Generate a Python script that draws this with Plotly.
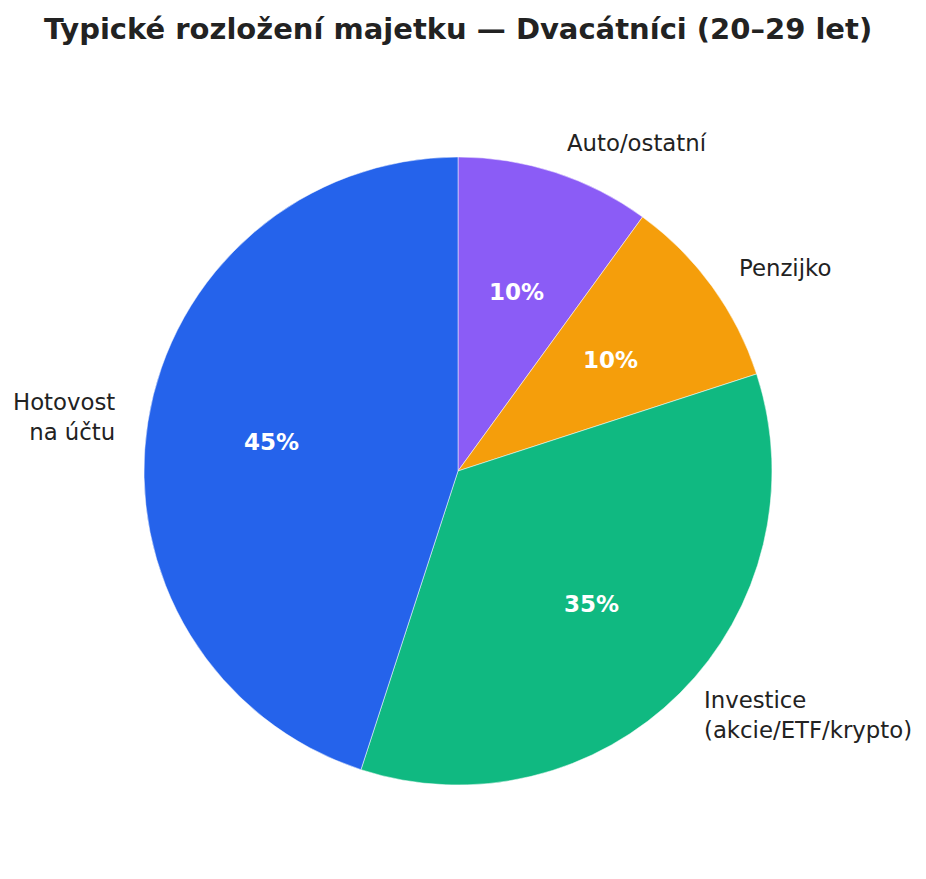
import numpy as np
import plotly.graph_objects as go

# Rozložení majetku dvacátníků
kategorie = ["Hotovost<br>na účtu", "Investice<br>(akcie/ETF/krypto)", "Penzijko", "Auto/ostatní"]
podily = [45, 35, 10, 10]
barvy = ["#2563eb", "#10b981", "#f59e0b", "#8b5cf6"]

# geometrie koláče v pixelech (stránka má 8px okraj body)
W, H = 926, 879
CX, CY, R = 450, 463, 314

# výseče jdou od 12 hodin proti směru hodinových ručiček -> v plotly obrátit pořadí a kreslit po směru
fig = go.Figure(go.Pie(
    labels=kategorie[::-1],
    values=podily[::-1],
    sort=False,
    direction="clockwise",
    rotation=0,
    domain=dict(x=[(CX - R) / W, (CX + R) / W], y=[(H - CY - R) / H, (H - CY + R) / H]),
    marker=dict(colors=barvy[::-1], line=dict(color="white", width=0.5)),
    textinfo="none",
    hoverinfo="label+percent",
    showlegend=False,
))

# popisky a procenta jako v matplotlibu (labeldistance 1.1, pctdistance 0.6)
celkem = sum(podily)
kum = np.cumsum([0] + podily[:-1])
for lab, v, k in zip(kategorie, podily, kum):
    uhel = np.deg2rad(90 + 360 * (k + v / 2) / celkem)
    dx, dy = np.cos(uhel), np.sin(uhel)
    strana = "left" if dx > 0 else "right"
    fig.add_annotation(
        x=(CX + 1.1 * R * dx) / W, y=(H - CY + 1.1 * R * dy) / H,
        xref="paper", yref="paper", text=lab, showarrow=False,
        xanchor=strana, yanchor="middle", align=strana,
        font=dict(family="DejaVu Sans", size=22.8, color="#222222"),
    )
    fig.add_annotation(
        x=(CX + 0.6 * R * dx) / W, y=(H - CY + 0.6 * R * dy) / H,
        xref="paper", yref="paper", text=f"<b>{v / celkem * 100:.0f}%</b>", showarrow=False,
        xanchor="center", yanchor="middle",
        font=dict(family="DejaVu Sans", size=23, color="white"),
    )

fig.update_layout(
    title=dict(
        text="<b>Typické rozložení majetku — Dvacátníci (20–29 let)</b>",
        x=0.486, xanchor="center", y=0.9875, yanchor="top",
        font=dict(family="DejaVu Sans", size=29, color="#222222"),
    ),
    width=W, height=H,
    margin=dict(l=0, r=0, t=0, b=0),
    paper_bgcolor="white",
    plot_bgcolor="white",
)

fig.write_html("out.html")
